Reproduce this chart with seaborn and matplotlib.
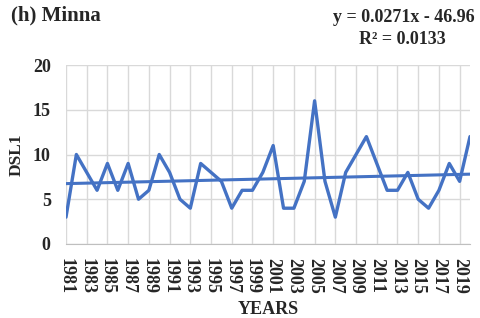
import numpy as np
import pandas as pd
import seaborn as sns
import matplotlib.pyplot as plt

years = list(range(1981, 2021))
dsl1 = [3, 10, 8, 6, 9, 6, 9, 5, 6, 10,
        8, 5, 4, 9, 8, 7, 4, 6, 6, 8,
        11, 4, 4, 7, 16, 7, 3, 8, 10, 12,
        9, 6, 6, 8, 5, 4, 6, 9, 7, 12]
tick_years = list(range(1981, 2021, 2))
y_ticks = [0, 5, 10, 15, 20]

df = pd.DataFrame({'Year': years, 'DSL1': dsl1})

sns.set_style('white')
plt.rcParams['font.family'] = ['Liberation Serif', 'DejaVu Serif']
plt.rcParams['font.weight'] = 'bold'

fig = plt.figure(figsize=(4.8, 3.18), dpi=100)
ax = fig.add_axes([66 / 480, 1 - 244 / 318, 404 / 480, 179 / 318])

blue = '#4472C4'
sns.lineplot(data=df, x='Year', y='DSL1', ax=ax, color=blue, linewidth=2.4)

# linear trend
slope, intercept = np.polyfit(df['Year'], df['DSL1'], 1)
ax.plot(df['Year'], slope * df['Year'] + intercept, color=blue, linewidth=2.2)

ax.set_xlim(1981, 2020)
ax.set_ylim(0, 20)
ax.set_xticks(tick_years)
ax.set_xticklabels([str(y) for y in tick_years], rotation=270, fontsize=13, fontweight='bold')
ax.set_yticks(y_ticks)
ax.set_yticklabels([str(v) for v in y_ticks], fontsize=13, fontweight='bold')
ax.tick_params(axis='x', length=0, pad=10)
ax.tick_params(axis='y', length=0, pad=11)
ax.grid(True, color='#d9d9d9', linewidth=1)
for s in ['top', 'right', 'left']:
    ax.spines[s].set_visible(False)
ax.spines['bottom'].set_color('#bfbfbf')

ax.set_xlabel('YEARS', fontsize=13, fontweight='bold', labelpad=5)
ax.set_ylabel('DSL1', fontsize=12.5, fontweight='bold', labelpad=6)

fig.text(11 / 480, 1 - 15 / 318, '(h) Minna', fontsize=15, fontweight='bold', va='center', ha='left')
fig.text(475 / 480, 1 - 18 / 318, 'y = 0.0271x - 46.96', fontsize=13, fontweight='bold', va='center', ha='right')
fig.text(446 / 480, 1 - 40 / 318, 'R² = 0.0133', fontsize=13, fontweight='bold', va='center', ha='right')

fig.savefig('out.png', dpi=100)
